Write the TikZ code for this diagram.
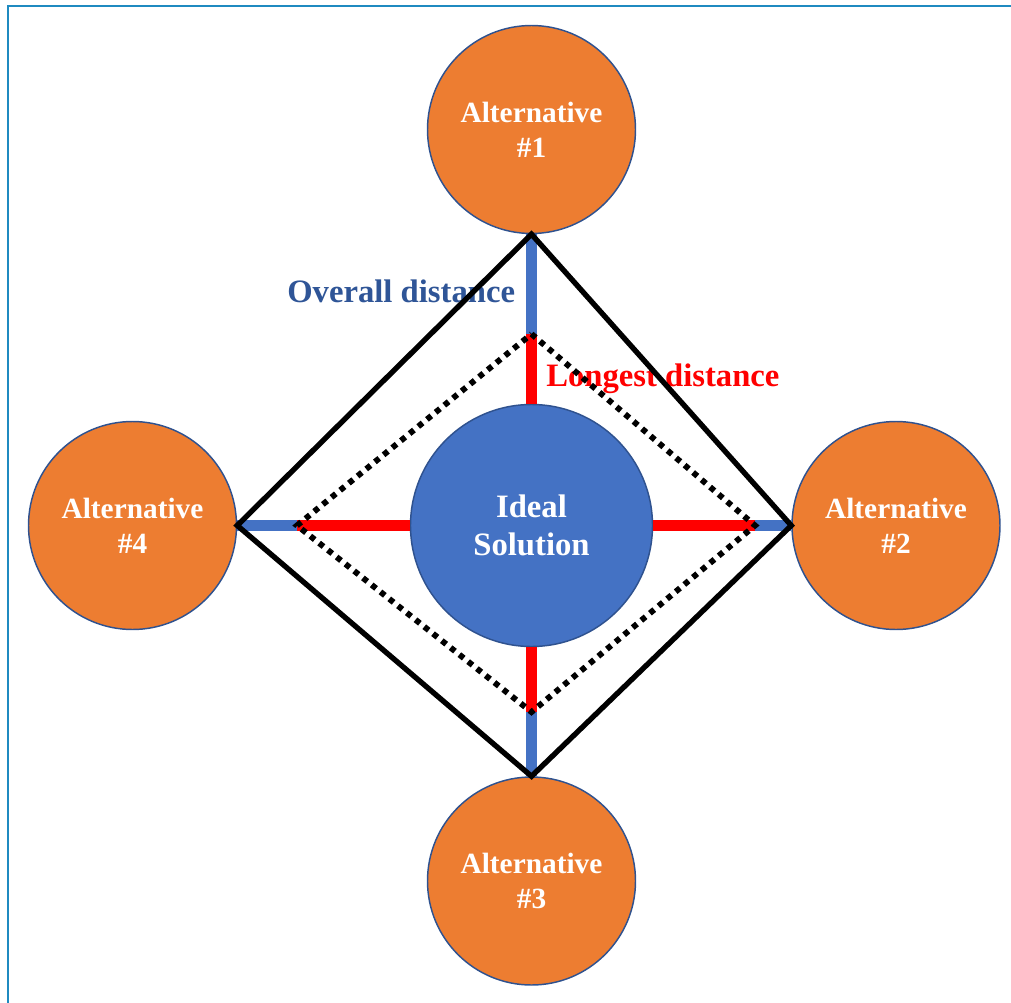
\documentclass[tikz,border=0pt]{standalone}
\usepackage{fontspec}
\setmainfont{Liberation Serif}
\definecolor{altorange}{HTML}{ED7D31}
\definecolor{idealblue}{HTML}{4472C4}
\definecolor{edgeblue}{HTML}{2F528F}
\definecolor{textblue}{HTML}{2F5597}
\definecolor{framecol}{HTML}{1F8AC0}
\definecolor{pureRed}{HTML}{FF0000}
\tikzset{
  altnode/.style={circle, fill=altorange, draw=edgeblue, line width=1.1pt,
    minimum size=156pt, inner sep=0pt, align=center, text=white,
    execute at begin node={\rule{0pt}{24pt}},
    font=\bfseries\fontsize{22}{26.5}\selectfont},
  idealnode/.style={circle, fill=idealblue, draw=edgeblue, line width=1.1pt,
    minimum size=181.5pt, inner sep=0pt, align=center, text=white,
    font=\bfseries\fontsize{24.5}{29}\selectfont},
  overallline/.style={draw=idealblue, line width=8.5pt},
  longline/.style={draw=pureRed, line width=8.5pt},
  outerline/.style={draw=black, line width=4pt, line join=miter},
  innerline/.style={draw=black, line width=4.4pt, dash pattern=on 4.2pt off 4.2pt},
  framestyle/.style={draw=framecol, line width=2.2pt},
  lbl/.style={inner sep=0pt, anchor=base west, font=\bfseries\fontsize{24.5}{29}\selectfont}
}
\begin{document}
\begin{tikzpicture}[x=0.75pt, y=-0.75pt]
\useasboundingbox (0,0) rectangle (1011,1003);
% frame (only top and left edges visible)
\draw[framestyle] (8,1003) -- (8,6) -- (1011,6);

% nodes
\node[idealnode] (ideal) at (531.5,525.5) {Ideal\\Solution};
\node[altnode] (a1) at (531.5,129.5) {Alternative\\\#1};
\node[altnode] (a2) at (896,525.5) {Alternative\\\#2};
\node[altnode] (a3) at (531.5,881) {Alternative\\\#3};
\node[altnode] (a4) at (132.5,525.5) {Alternative\\\#4};

% inner (dotted) diamond corners
\coordinate (p1) at (531.5,334);
\coordinate (p2) at (755,525.5);
\coordinate (p3) at (531.5,712);
\coordinate (p4) at (297,525.5);

% labels
\node[lbl, text=textblue] (overall) at (287,302) {Overall distance};
\node[lbl, text=pureRed] (longest) at (546,386) {Longest distance};

% overall distances
\draw[overallline] (ideal.north) -- (a1.south);
\draw[overallline] (ideal.east) -- (a2.west);
\draw[overallline] (ideal.south) -- (a3.north);
\draw[overallline] (ideal.west) -- (a4.east);

% longest distances
\draw[longline] (ideal.north) -- (p1);
\draw[longline] (ideal.east) -- (p2);
\draw[longline] (ideal.south) -- (p3);
\draw[longline] (ideal.west) -- (p4);

% outer diamond
\draw[outerline] (a1.south) -- (a2.west) -- (a3.north) -- (a4.east) -- cycle;

% inner dotted diamond
\draw[innerline] (p1) -- (p2) -- (p3) -- (p4) -- cycle;
\end{tikzpicture}
\end{document}
